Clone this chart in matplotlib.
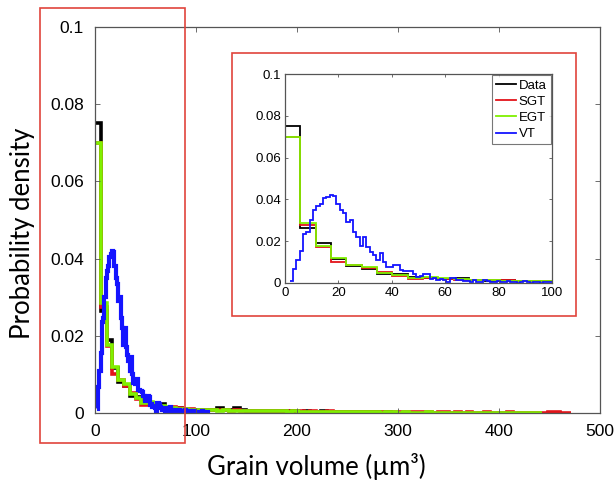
import numpy as np
import matplotlib
matplotlib.use("Agg")
import matplotlib.pyplot as plt
from matplotlib.patches import Rectangle

# histogram bin widths (um^3)
bin_w = 5.75
vt_start = 1.75
vt_w = 1.25

data_vals = [0.075, 0.0265, 0.019, 0.0117, 0.008, 0.0069, 0.0045, 0.0042, 0.003, 0.0025,
             0.002, 0.0023, 0.0012, 0.001, 0.0012, 0.001, 0.0008, 0.0008,
             0.0009, 0.0008, 0.0009, 0.0012, 0.0008, 0.0007, 0.0012, 0.0007, 0.0006, 0.0006,
             0.0005, 0.0006, 0.0005, 0.0004, 0.0005, 0.0004, 0.0004, 0.0003, 0.0004, 0.0003,
             0.0003, 0.0004, 0.0003, 0.0002, 0.0003, 0.0002, 0.0003, 0.0002, 0.0002, 0.0002,
             0.0002, 0.0001, 0.0002, 0.0001]

sgt_vals = [0.070, 0.0275, 0.0173, 0.010, 0.0085, 0.007, 0.0053, 0.0035, 0.002, 0.0022,
            0.0018, 0.0015, 0.0012, 0.0015, 0.0012, 0.001, 0.001, 0.0008,
            0.0009, 0.0008, 0.0007, 0.0008, 0.0007, 0.0006, 0.0007, 0.0006, 0.0005, 0.0006,
            0.0005, 0.0005, 0.0004, 0.0005, 0.0004, 0.0004, 0.0005, 0.0004, 0.0003, 0.0004,
            0.0003, 0.0003, 0.0004, 0.0003, 0.0003, 0.0002, 0.0003, 0.0003, 0.0002, 0.0003,
            0.0002, 0.0002, 0.0003, 0.0002, 0.0002, 0.0002, 0.0003, 0.0002, 0.0002, 0.0002,
            0.0001, 0.0002, 0.0002, 0.0001, 0.0002, 0.0001, 0.0002, 0.0001, 0.0001, 0.0002,
            0.0001, 0.0001, 0.0001, 0.0002, 0.0001, 0.0001, 0.0001, 0.0001, 0.0001, 0.0001,
            0.0002, 0.0002, 0.0001, 0.0001]

egt_vals = [0.070, 0.0285, 0.0175, 0.012, 0.0085, 0.0075, 0.005, 0.0038, 0.0025, 0.0028,
            0.0022, 0.0018, 0.0015, 0.0012, 0.0011, 0.001, 0.0009, 0.0008,
            0.0008, 0.0007, 0.0007, 0.0006, 0.0007, 0.0006, 0.0006, 0.0005, 0.0005, 0.0005,
            0.0004, 0.0005, 0.0004, 0.0004, 0.0004, 0.0003, 0.0004, 0.0003, 0.0003, 0.0003,
            0.0003, 0.0002, 0.0003, 0.0002, 0.0002, 0.0003, 0.0002, 0.0002, 0.0002, 0.0002,
            0.0002, 0.0001, 0.0002, 0.0002, 0.0001, 0.0002, 0.0001, 0.0001, 0.0001, 0.0002,
            0.0001, 0.0001, 0.0001, 0.0001, 0.0001, 0.0001, 0.0001, 0.0001, 0.0001, 0.0001,
            0.0001, 0.0001, 0.0001, 0.0001, 0.0001, 0.0001, 0.0001, 0.0001, 0.0001]

vt_vals = [0.001, 0.0068, 0.011, 0.0155, 0.0235, 0.0245, 0.030, 0.035, 0.0368, 0.038,
           0.0405, 0.0412, 0.042, 0.0418, 0.038, 0.035, 0.0333, 0.029, 0.030, 0.0245,
           0.022, 0.0175, 0.022, 0.017, 0.015, 0.0135, 0.011, 0.0145, 0.010, 0.0078,
           0.0075, 0.0088, 0.0088, 0.006, 0.0058, 0.0058, 0.0055, 0.0045, 0.003, 0.0032,
           0.0045, 0.0042, 0.002, 0.0022, 0.0015, 0.0018, 0.0012, 0.0005, 0.0025, 0.0022,
           0.0015, 0.0012, 0.0008, 0.001, 0.0005, 0.0012, 0.0003, 0.0006, 0.0015, 0.0008,
           0.0006, 0.0004, 0.0008, 0.0005, 0.0003, 0.0009, 0.0006, 0.0004, 0.0002, 0.0005,
           0.0007, 0.0004, 0.0002, 0.0003, 0.0005, 0.0002, 0.0004, 0.0006, 0.0003, 0.0002,
           0.0001, 0.0003, 0.0002, 0.0004, 0.0001, 0.0002, 0.0001, 0.0002, 0.0001, 0.0001]

labels = ["Data", "SGT", "EGT", "VT"]
colors = ["#000000", "#e3141a", "#7ff000", "#1414ff"]
x_ticks = [0, 100, 200, 300, 400, 500]
y_ticks = [0, 0.02, 0.04, 0.06, 0.08, 0.1]
y_ticklabels = ["0", "0.02", "0.04", "0.06", "0.08", "0.1"]
inset_xticks = [0, 20, 40, 60, 80, 100]

plt.rcParams["font.family"] = ["Liberation Sans", "DejaVu Sans"]

series = []
for vals in (data_vals, sgt_vals, egt_vals):
    edges = np.arange(len(vals) + 1) * bin_w
    series.append((np.array(vals), edges))
vt_edges = vt_start + np.arange(len(vt_vals) + 1) * vt_w
series.append((np.array(vt_vals), vt_edges))

fig = plt.figure(figsize=(6.15, 4.87), dpi=100)


def style_axes(ax, size, ticklen):
    for sp in ax.spines.values():
        sp.set_color("#555555")
        sp.set_linewidth(0.9)
    ax.tick_params(direction="in", top=True, right=True, length=ticklen,
                   width=0.6, color="#555555", labelsize=size)


ax = fig.add_axes([0.1545, 0.152, 0.821, 0.7926])
for (vals, edges), lab, c in zip(series, labels, colors):
    lw = 3.0 if lab == "VT" else 2.6
    ax.stairs(vals, edges, baseline=None, color=c, linewidth=lw)
ax.set_xlim(0, 500)
ax.set_ylim(0, 0.1)
ax.set_xticks(x_ticks)
ax.set_yticks(y_ticks)
ax.set_yticklabels(y_ticklabels)
style_axes(ax, 12.5, 3.5)
ax.tick_params(axis="x", pad=8)
ax.tick_params(axis="y", pad=8)

fig.text(0.036, 0.52, "Probability density", rotation=90, ha="center", va="center",
         fontsize=18.5, family=["Lato", "DejaVu Sans"])
fig.text(0.514, 0.043, "Grain volume (\u00b5m\u00b3)", ha="center", va="center",
         fontsize=18.5, family=["Lato", "DejaVu Sans"])

ins = fig.add_axes([0.4634, 0.419, 0.434, 0.429])
for (vals, edges), lab, c in zip(series, labels, colors):
    ins.stairs(vals, edges, baseline=None, color=c, linewidth=1.3, label=lab)
ins.set_xlim(0, 100)
ins.set_ylim(0, 0.1)
ins.set_xticks(inset_xticks)
ins.set_yticks(y_ticks)
ins.set_yticklabels(y_ticklabels)
style_axes(ins, 9.5, 2.5)
ins.tick_params(pad=3)
leg = ins.legend(loc="upper right", fontsize=9.5, frameon=True, fancybox=False,
                 handlelength=1.5, handletextpad=0.2, borderpad=0.3,
                 labelspacing=0.3, borderaxespad=0.1)
leg.get_frame().set_edgecolor("#555555")
leg.get_frame().set_linewidth(0.8)

red = "#e0443c"
fig.add_artist(Rectangle((0.065, 0.0903), 0.236, 0.893, transform=fig.transFigure,
                         fill=False, edgecolor=red, linewidth=1.2))
fig.add_artist(Rectangle((0.377, 0.351), 0.560, 0.540, transform=fig.transFigure,
                         fill=False, edgecolor=red, linewidth=1.2))

fig.savefig("out.png", dpi=100)
